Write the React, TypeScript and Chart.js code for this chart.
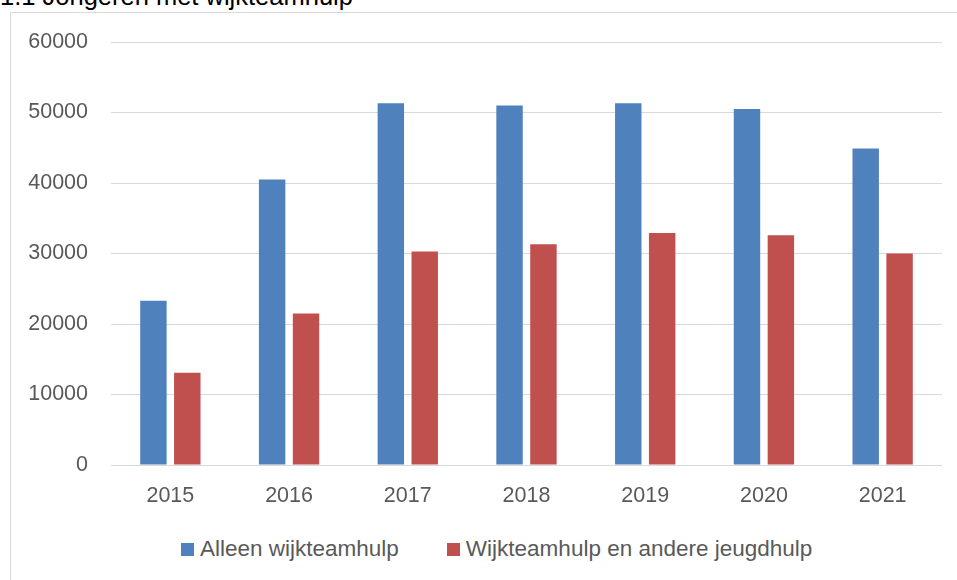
import React, { useEffect, useRef } from "react";
import { Chart, registerables } from "chart.js";

Chart.register(...registerables);

const TITLE = "1.1 Jongeren met wijkteamhulp";
const YEARS = ["2015", "2016", "2017", "2018", "2019", "2020", "2021"];
const SERIES_NAMES = ["Alleen wijkteamhulp", "Wijkteamhulp en andere jeugdhulp"];
const ALLEEN_WIJKTEAMHULP = [23300, 40500, 51300, 51000, 51300, 50500, 44900];
const WIJKTEAMHULP_EN_ANDERE = [13100, 21500, 30300, 31300, 32900, 32600, 30000];
const SERIES_COLORS = ["#4F81BD", "#C0504D"];
const Y_MIN = 0;
const Y_MAX = 60000;
const Y_STEP = 10000;

const FONT = "'Liberation Sans', Arial, sans-serif";
const TEXT_COLOR = "#595959";
const GRID_COLOR = "#D9D9D9";

export default function App() {
  const canvasRef = useRef<HTMLCanvasElement | null>(null);

  useEffect(() => {
    const canvas = canvasRef.current;
    if (!canvas) return;
    const chart = new Chart(canvas, {
      type: "bar",
      data: {
        labels: YEARS,
        datasets: [
          {
            label: SERIES_NAMES[0],
            data: ALLEEN_WIJKTEAMHULP,
            backgroundColor: SERIES_COLORS[0],
            borderWidth: 0,
            categoryPercentage: 0.571,
            barPercentage: 0.78,
          },
          {
            label: SERIES_NAMES[1],
            data: WIJKTEAMHULP_EN_ANDERE,
            backgroundColor: SERIES_COLORS[1],
            borderWidth: 0,
            categoryPercentage: 0.571,
            barPercentage: 0.78,
          },
        ],
      },
      options: {
        responsive: false,
        animation: false,
        devicePixelRatio: 1,
        layout: { padding: { left: 0, right: 15, top: 42, bottom: 0 } },
        plugins: {
          legend: { display: false },
          title: { display: false },
          tooltip: { enabled: false },
        },
        scales: {
          x: {
            grid: { display: false, drawTicks: false },
            border: { display: false },
            ticks: {
              color: TEXT_COLOR,
              font: { family: FONT, size: 21.5 },
              padding: 18,
              maxRotation: 0,
            },
            afterFit: (scale: any) => {
              scale.height = 55;
            },
          },
          y: {
            min: Y_MIN,
            max: Y_MAX,
            grid: { color: GRID_COLOR, lineWidth: 1, drawTicks: false },
            border: { display: false },
            ticks: {
              stepSize: Y_STEP,
              color: TEXT_COLOR,
              font: { family: FONT, size: 21.5 },
              padding: 23,
              callback: (v: any) => String(v),
            },
            afterFit: (scale: any) => {
              scale.width = 111;
            },
          },
        },
      },
    });
    return () => chart.destroy();
  }, []);

  return (
    <div
      style={{
        position: "absolute",
        left: 0,
        top: 0,
        width: 957,
        height: 580,
        overflow: "hidden",
        background: "#fff",
        fontFamily: FONT,
      }}
    >
      <div
        style={{
          position: "absolute",
          left: 0,
          top: -17,
          fontSize: 25.5,
          lineHeight: "26px",
          color: "#000",
          whiteSpace: "nowrap",
        }}
      >
        {TITLE}
      </div>
      <div
        style={{
          position: "absolute",
          left: 10,
          top: 12,
          width: 1000,
          height: 1000,
          border: `1px solid ${GRID_COLOR}`,
          boxSizing: "border-box",
        }}
      />
      <canvas
        ref={canvasRef}
        width={957}
        height={520}
        style={{ position: "absolute", left: 0, top: 0, width: 957, height: 520 }}
      />
      <div
        style={{
          position: "absolute",
          left: 181,
          top: 537,
          display: "flex",
          alignItems: "center",
          gap: 48,
          fontSize: 22.5,
          lineHeight: "24px",
          color: TEXT_COLOR,
          whiteSpace: "nowrap",
        }}
      >
        {SERIES_NAMES.map((name, i) => (
          <div key={name} style={{ display: "flex", alignItems: "center" }}>
            <span
              style={{
                display: "inline-block",
                width: 13,
                height: 13,
                background: SERIES_COLORS[i],
                marginRight: 6,
              }}
            />
            <span>{name}</span>
          </div>
        ))}
      </div>
    </div>
  );
}
